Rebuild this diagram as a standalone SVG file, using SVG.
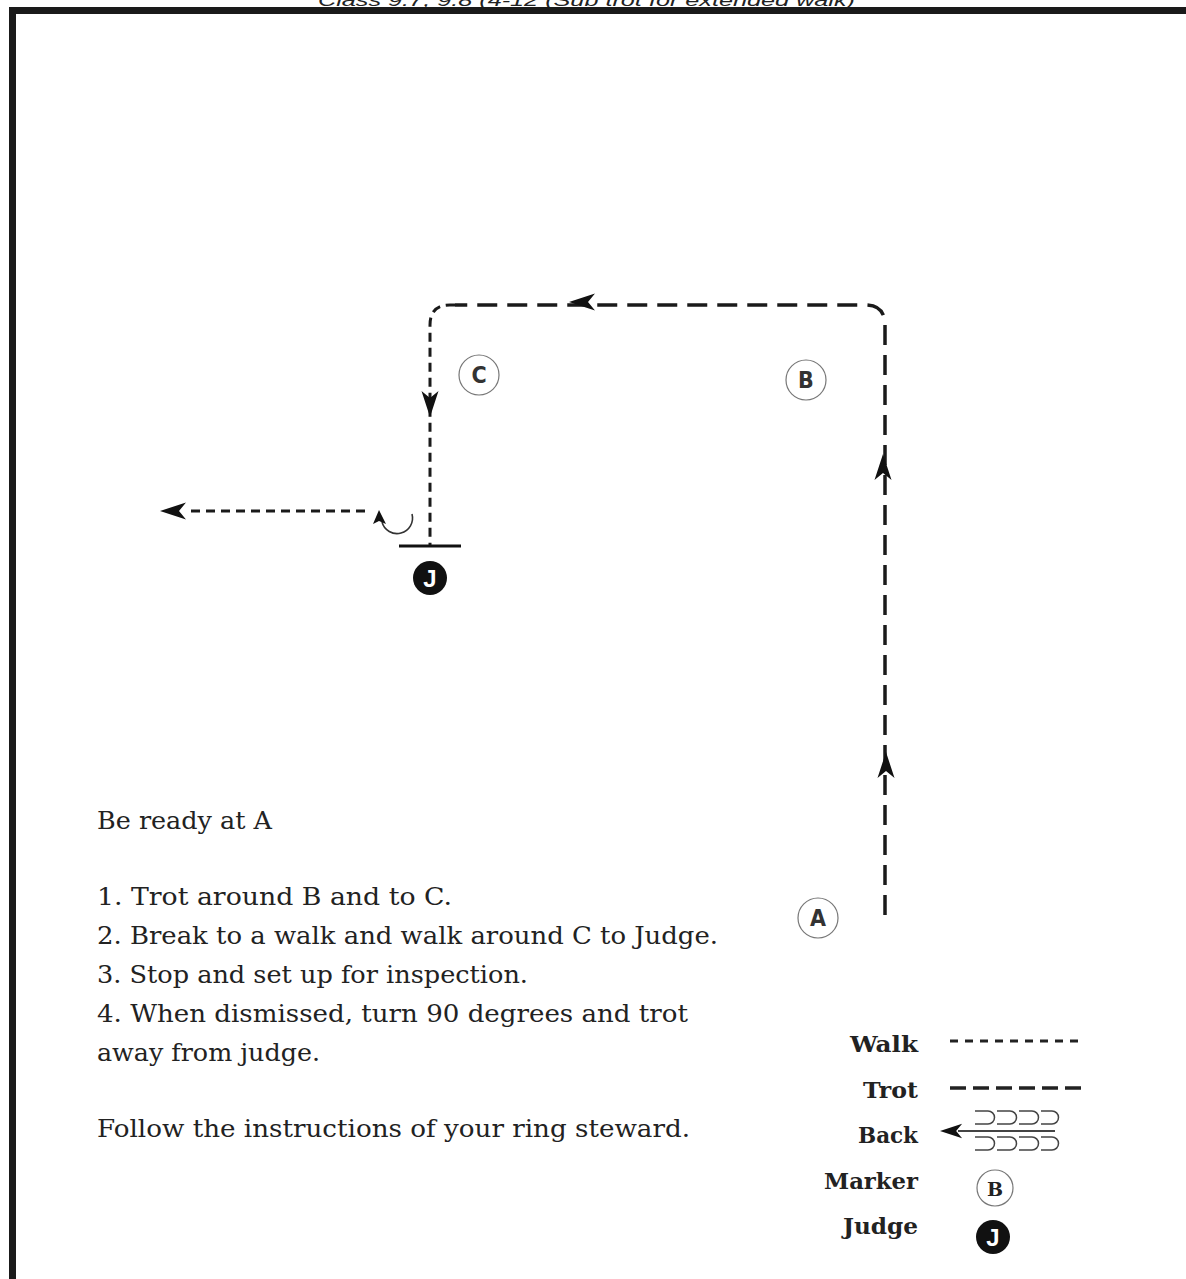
<svg xmlns="http://www.w3.org/2000/svg" width="1186" height="1279" viewBox="0 0 1186 1279">
<style>
.frame{fill:none;stroke:#1a1a1a;stroke-width:7}
.trot{fill:none;stroke:#1a1a1a;stroke-width:3.5;stroke-dasharray:20 10}
.walk{fill:none;stroke:#1a1a1a;stroke-width:3;stroke-dasharray:9 6}
.mk{fill:#fff;stroke:#777;stroke-width:1.2}
.mkt{font-family:"DejaVu Sans Condensed","Liberation Sans",Arial,sans-serif;font-size:23px;font-weight:bold;fill:#333;text-anchor:middle}
.txt{font-family:"DejaVu Serif","Liberation Serif",serif;font-size:25px;fill:#222}
.leg{font-family:"DejaVu Serif","Liberation Serif",serif;font-size:22px;font-weight:bold;fill:#222;text-anchor:end}
.jt{font-family:"Liberation Sans",Arial,sans-serif;font-weight:bold;fill:#fff;text-anchor:middle}
</style>
<defs>
<path id="ah" d="M0,0 L-26,-8.5 L-19,0 L-26,8.5 Z" fill="#111"/>
</defs>
<rect width="1186" height="1279" fill="#fff"/>
<text x="318" y="6" font-family="Liberation Sans,Arial,sans-serif" font-style="italic" font-size="17" fill="#222" textLength="537" lengthAdjust="spacingAndGlyphs">Class 9.7, 9.8 (4-12 (Sub trot for extended walk)</text>
<path class="frame" d="M12.5,1279 L12.5,10.5 L1186,10.5"/>
<g id="connectors">
<path class="trot" d="M885,915 L885,325 Q885,305 865,305 L455,305"/>
<path class="walk" d="M455,305 L450,305 Q430,305 430,325 L430,545"/>
<path class="walk" d="M365,511 L185,511"/>
<path d="M412,514 A14,14 0 1 1 382,522" fill="none" stroke="#333" stroke-width="1.6"/>
<path d="M379,510 L373,524 L379,521 L386,524 Z" fill="#111"/>
<line x1="399" y1="546" x2="461" y2="546" stroke="#111" stroke-width="3"/>
<use href="#ah" transform="translate(883,454) rotate(-90)"/>
<use href="#ah" transform="translate(886,752) rotate(-90)"/>
<use href="#ah" transform="translate(569,302) rotate(180)"/>
<use href="#ah" transform="translate(430,417) rotate(90)"/>
<use href="#ah" transform="translate(160,511) rotate(180)"/>
</g>
<g id="marker-C"><circle class="mk" cx="479" cy="375" r="20"/><text class="mkt" x="479" y="383">C</text></g>
<g id="marker-B"><circle class="mk" cx="806" cy="380" r="20"/><text class="mkt" x="806" y="388">B</text></g>
<g id="marker-A"><circle class="mk" cx="818" cy="918" r="20"/><text class="mkt" x="818" y="926">A</text></g>
<g id="judge"><circle cx="430" cy="578" r="17" fill="#111"/><text class="jt" x="430" y="587" font-size="24">J</text></g>
<g id="instructions">
<text class="txt" x="97" y="829" textLength="175" lengthAdjust="spacingAndGlyphs">Be ready at A</text>
<text class="txt" x="97" y="905" textLength="355" lengthAdjust="spacingAndGlyphs">1.  Trot around B and to C.</text>
<text class="txt" x="97" y="944" textLength="621" lengthAdjust="spacingAndGlyphs">2.  Break to a walk and walk around C to Judge.</text>
<text class="txt" x="97" y="983" textLength="431" lengthAdjust="spacingAndGlyphs">3.  Stop and set up for inspection.</text>
<text class="txt" x="97" y="1022" textLength="591" lengthAdjust="spacingAndGlyphs">4.  When dismissed, turn 90 degrees and trot</text>
<text class="txt" x="97" y="1061" textLength="223" lengthAdjust="spacingAndGlyphs">away from judge.</text>
<text class="txt" x="97" y="1137" textLength="593" lengthAdjust="spacingAndGlyphs">Follow the instructions of  your ring steward.</text>
</g>
<g id="legend">
<text class="leg" x="918" y="1052" textLength="68" lengthAdjust="spacingAndGlyphs">Walk</text>
<text class="leg" x="918" y="1098" textLength="55" lengthAdjust="spacingAndGlyphs">Trot</text>
<text class="leg" x="918" y="1143" textLength="60" lengthAdjust="spacingAndGlyphs">Back</text>
<text class="leg" x="918" y="1189" textLength="94" lengthAdjust="spacingAndGlyphs">Marker</text>
<text class="leg" x="918" y="1234" textLength="75" lengthAdjust="spacingAndGlyphs">Judge</text>
<line x1="950" y1="1041" x2="1082" y2="1041" stroke="#222" stroke-width="3" stroke-dasharray="8 7"/>
<line x1="950" y1="1088" x2="1082" y2="1088" stroke="#222" stroke-width="3.5" stroke-dasharray="16 7"/>
<g id="back-symbol" fill="none" stroke="#444" stroke-width="1.5">
<line x1="958" y1="1131" x2="1055" y2="1131" stroke-width="2"/>
<path d="M975,1111 h13 a6.5,6.5 0 0 1 0,13 h-13 M997,1111 h13 a6.5,6.5 0 0 1 0,13 h-13 M1019,1111 h13 a6.5,6.5 0 0 1 0,13 h-13 M1041,1111 h11 a6.5,6.5 0 0 1 0,13 h-11"/>
<path d="M975,1137 h13 a6.5,6.5 0 0 1 0,13 h-13 M997,1137 h13 a6.5,6.5 0 0 1 0,13 h-13 M1019,1137 h13 a6.5,6.5 0 0 1 0,13 h-13 M1041,1137 h11 a6.5,6.5 0 0 1 0,13 h-11"/>
</g>
<use href="#ah" transform="translate(940,1131) rotate(180) scale(0.85)"/>
<g id="legend-marker"><circle class="mk" cx="995" cy="1188" r="18"/><text x="995" y="1196" font-family="DejaVu Serif,Liberation Serif,serif" font-weight="bold" font-size="19" fill="#222" text-anchor="middle">B</text></g>
<g id="legend-judge"><circle cx="993" cy="1237" r="17" fill="#111"/><text class="jt" x="993" y="1246" font-size="24">J</text></g>
</g>
</svg>
